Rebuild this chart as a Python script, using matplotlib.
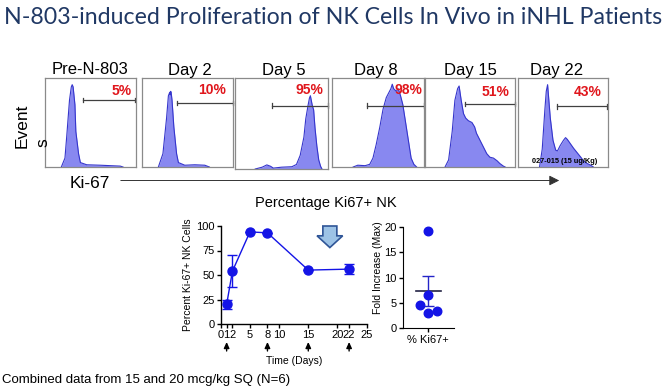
import matplotlib
matplotlib.use("Agg")
import matplotlib.pyplot as plt
from matplotlib.patches import FancyArrow, FancyArrowPatch
import numpy as np

W, H = 672, 389
fig = plt.figure(figsize=(W / 100, H / 100), dpi=100)
fig.patch.set_facecolor("white")

ARIAL = ["Liberation Sans", "DejaVu Sans"]
NARROW = ["Liberation Sans Narrow", "Liberation Sans", "DejaVu Sans"]

# ---------------- data ----------------
panel_titles = ["Pre-N-803", "Day 2", "Day 5", "Day 8", "Day 15", "Day 22"]
panel_pcts = ["5%", "10%", "95%", "98%", "51%", "43%"]

# histogram outlines (x: % of Ki-67 axis, y: % of panel height)
hist_x_pre = [18, 22, 24, 27, 29, 30, 31, 33, 34, 37, 39, 46, 61, 83, 86]
hist_y_pre = [0, 10, 35, 75, 90, 92.5, 90, 70, 40, 15, 5, 2.5, 2, 1, 0]
hist_x_d2 = [18, 23, 27, 29, 30.5, 31, 31.5, 32, 33, 35, 38, 40, 47, 58, 69, 74]
hist_y_d2 = [0, 15, 55, 80, 84, 81, 85, 84, 75, 45, 15, 5, 2, 2.5, 2, 0]
hist_x_d5 = [21.5, 29, 34, 38, 41, 50, 61, 66, 70, 74, 76, 78.5, 80, 81, 83, 84.5, 86, 88, 90, 92, 93.5]
hist_y_d5 = [0, 2, 4.5, 3, 1, 2, 2.5, 5, 15, 35, 55, 70, 78, 80.5, 70, 65, 45, 25, 10, 3, 0]
hist_x_d8 = [23, 28, 36, 41, 44.5, 48, 52, 55.5, 59, 61, 64, 65.5, 67, 70, 72, 74.5, 77, 80, 83, 86, 89, 92]
hist_y_d8 = [0, 2, 1.5, 3, 10, 25, 45, 65, 78, 82, 88, 93, 88, 85, 88, 80, 70, 50, 30, 10, 3, 0]
hist_x_d15 = [22, 26, 30, 33, 36, 37.7, 40, 42.6, 45, 48, 52, 55, 57, 61, 65, 68.5, 72, 76, 80, 83, 87, 89]
hist_y_d15 = [0, 8, 40, 75, 88, 91, 75, 60, 55, 52, 50, 45, 38, 30, 22, 15, 11, 10, 7, 4, 1, 0]
hist_x_d22 = [24, 27, 30, 31.5, 33, 34, 36, 39, 42, 44, 47, 50.7, 53, 55, 58.5, 62, 66, 70, 73, 77, 81, 84]
hist_y_d22 = [0, 20, 65, 85, 92.5, 80, 55, 30, 19, 18, 24, 30, 33, 31, 26, 21, 16, 11, 7, 4, 2, 0]
gate_start = [42, 38.5, 40, 38, 44, 44]
gate_level = [75, 72, 69.6, 69, 71, 68]

# time course
days = [1, 2, 5, 8, 15, 22]
pct_ki67 = [20, 54, 94, 93, 55, 56]
pct_err = [4.5, 16, 0, 0, 0, 5]
time_ticks = [0, 1, 2, 5, 8, 10, 15, 20, 22, 25]
dose_days = [1, 8, 15, 22]
pct_yticks = [0, 25, 50, 75, 100]

# fold increase
fold_values = [19.2, 6.6, 4.5, 3.0, 3.4]
fold_jitter = [0, 0, -0.33, 0, 0.33]
fold_yticks = [0, 5, 10, 15, 20]

hists = [(hist_x_pre, hist_y_pre), (hist_x_d2, hist_y_d2), (hist_x_d5, hist_y_d5),
         (hist_x_d8, hist_y_d8), (hist_x_d15, hist_y_d15), (hist_x_d22, hist_y_d22)]


def px_axes(x0, y0, x1, y1):
    return fig.add_axes([x0 / W, 1 - y1 / H, (x1 - x0) / W, (y1 - y0) / H])


def ftext(x, y, s, **kw):
    return fig.text(x / W, 1 - y / H, s, **kw)


# ---------------- title ----------------
ftext(4, 18, "N-803-induced Proliferation of NK Cells In Vivo in iNHL Patients",
      fontsize=16.7, color="#203864", family=["Lato", "DejaVu Sans"],
      ha="left", va="center")

# ---------------- histograms ----------------
boxes = [(45, 78, 135.7, 167), (142, 78, 233, 167), (235.3, 78, 328, 169),
         (332, 78, 424, 167), (425.3, 78, 515, 167), (518, 78, 607.7, 167)]
title_x = [90, 190, 284, 376, 470, 557]
pct_pos = [(95.6, 85), (92.7, 86), (95, 87), (98, 86), (94, 84), (93, 84)]
fill_c = "#8888F0"
edge_c = "#3535CC"
for i, (b, (hx, hy)) in enumerate(zip(boxes, hists)):
    ax = px_axes(*b)
    ax.set_xlim(0, 100)
    ax.set_ylim(0, 100)
    ax.fill_between(hx, hy, 0, color=fill_c, lw=0, clip_on=False)
    ax.plot(hx, hy, color=edge_c, lw=0.8, clip_on=False)
    ax.set_xticks([])
    ax.set_yticks([])
    for s in ax.spines.values():
        s.set_color("#8a8a8a")
        s.set_linewidth(0.9)
    g0, gy = gate_start[i], gate_level[i]
    ax.plot([g0, 99.5], [gy, gy], color="#404040", lw=0.9, clip_on=False)
    ax.plot([g0, g0], [gy - 2.5, gy + 2.5], color="#404040", lw=0.9, clip_on=False)
    ax.plot([99.5, 99.5], [gy - 2.5, gy + 2.5], color="#404040", lw=0.9, clip_on=False)
    px, py = pct_pos[i]
    ax.text(px, py, panel_pcts[i], color="#E0161C", fontsize=10, fontweight="bold",
            family=ARIAL, ha="right", va="center")
    ftext(title_x[i], 70, panel_titles[i], fontsize=12, family=ARIAL,
          ha="center", va="center", color="black")
    if i == 5:
        ax.text(52, 6, "027-015 (15 ug/Kg)", fontsize=5.3, fontweight="bold",
                family=NARROW, ha="center", va="center", color="black")

ftext(22, 126, "Event", fontsize=12.5, family=ARIAL, rotation=90,
      ha="center", va="center")
ftext(43, 143, "s", fontsize=12.5, family=ARIAL, rotation=90,
      ha="center", va="center")
ftext(70, 183, "Ki-67", fontsize=12.5, family=ARIAL, ha="left", va="center")
fig.add_artist(FancyArrowPatch(
    (118 / W, 1 - 180.5 / H), (562 / W, 1 - 180.5 / H),
    transform=fig.transFigure, arrowstyle="-|>,head_length=4,head_width=2",
    color="#333333", lw=0.7, mutation_scale=1.5))

ftext(326, 203, "Percentage Ki67+ NK", fontsize=10.5, family=ARIAL,
      ha="center", va="center")

# ---------------- time course ----------------
blue = "#1414E6"
ax1 = px_axes(220.8, 226, 366.6, 324)
ax1.set_xlim(0, 25)
ax1.set_ylim(0, 100)
ax1.errorbar(days, pct_ki67, yerr=pct_err, color=blue, marker="o", ms=6.5,
             lw=1.0, capsize=3.5, elinewidth=1.0, capthick=1.0, clip_on=False,
             zorder=3)
ax1.set_xticks(time_ticks)
ax1.set_xticklabels([str(t) for t in time_ticks])
ax1.set_yticks(pct_yticks)
for s in ["top", "right"]:
    ax1.spines[s].set_visible(False)
for s in ["left", "bottom"]:
    ax1.spines[s].set_linewidth(1.0)
ax1.tick_params(direction="out", length=3, width=1.0, pad=1.5, labelsize=8)
for lab in ax1.get_xticklabels() + ax1.get_yticklabels():
    lab.set_family(NARROW)
ax1.set_ylabel("Percent Ki-67+ NK Cells", fontsize=7.5, family=NARROW, labelpad=2)
ax1.set_xlabel("Time (Days)", fontsize=7.5, family=NARROW, labelpad=11)
for d in dose_days:
    ax1.annotate("", xy=(d, 1 - 342 / H), xytext=(d, 1 - 351 / H),
                 xycoords=("data", "figure fraction"),
                 textcoords=("data", "figure fraction"),
                 arrowprops=dict(arrowstyle="-|>,head_length=0.35,head_width=0.16",
                                 color="black", lw=1.0, shrinkA=0, shrinkB=0))
ax1.add_patch(FancyArrow(18.7, 100, 0, -22, width=2.4, head_width=4.4,
                         head_length=12, length_includes_head=True,
                         facecolor="#9DC3E6", edgecolor="#2F5597", lw=1.2,
                         clip_on=False, zorder=4))

# ---------------- fold increase ----------------
ax2 = px_axes(402.7, 226.7, 454, 328.3)
ax2.set_xlim(-1, 1)
ax2.set_ylim(0, 20)
fold_arr = np.array(fold_values)
mean = fold_arr.mean()
sem = fold_arr.std(ddof=1) / np.sqrt(len(fold_arr))
ax2.scatter(fold_jitter, fold_values, s=38, color=blue, zorder=3, clip_on=False)
ax2.plot([-0.5, 0.5], [mean, mean], color="#222244", lw=1.2, zorder=2)
ax2.errorbar([0], [mean], yerr=[sem], color="#2424C8", lw=1.0, capsize=4.5,
             capthick=1.0, zorder=2)
ax2.set_xticks([0])
ax2.set_xticklabels(["% Ki67+"])
ax2.set_yticks(fold_yticks)
for s in ["top", "right"]:
    ax2.spines[s].set_visible(False)
ax2.tick_params(direction="out", length=3, width=1.0, pad=1.5, labelsize=8)
for lab in ax2.get_xticklabels() + ax2.get_yticklabels():
    lab.set_family(NARROW)
ftext(378, 268, "Fold Increase (Max)", fontsize=7.5, family=NARROW, rotation=90,
      ha="center", va="center")

# ---------------- footer ----------------
ftext(2, 380, "Combined data from 15 and 20 mcg/kg SQ (N=6)", fontsize=9.5,
      family=ARIAL, ha="left", va="center")

fig.savefig("out.png", dpi=100, facecolor="white")
